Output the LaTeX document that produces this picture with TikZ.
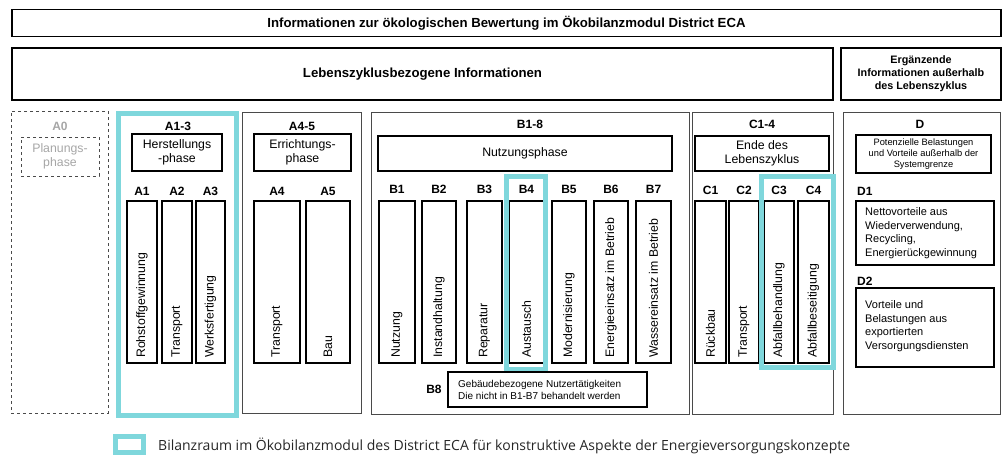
\documentclass[tikz,border=0pt]{standalone}
\usepackage{fontspec}
\setmainfont{Liberation Sans}
\newfontfamily\legendfont{Open Sans}
\definecolor{cy}{HTML}{7FD7DC}
\definecolor{secgray}{HTML}{4A4A4A}
\definecolor{ltgray}{HTML}{A6A6A6}
\newcommand\bx[7]{%
  \node[#6, minimum width={(#4-#2)*1pt}, minimum height={(#5-#3)*1pt}] (#1) at ({(#2+#4)/2},{(#3+#5)/2}) {#7};}
\tikzset{
  box/.style={draw, inner sep=0pt, outer sep=0pt, align=center, font=\fontsize{12.3}{14.5}\selectfont},
  frame/.style={box, line width=1.5pt},
  section/.style={box, draw=secgray, line width=1pt},
  phase/.style={box, line width=1.5pt},
  col/.style={box, line width=1.6pt},
  hl/.style={draw=cy, line width=5pt, inner sep=0pt, outer sep=0pt},
  lbl/.style={font=\bfseries\fontsize{12}{14}\selectfont, inner sep=0pt},
  vtext/.style={rotate=90, anchor=west, font=\fontsize{12.3}{14}\selectfont, inner sep=0pt},
}
\begin{document}
\begin{tikzpicture}[x=1pt,y=-1pt]
\useasboundingbox (0,0) rectangle (1002,456);
% top rows
\bx{top}{12}{9.5}{1001}{36.5}{frame, font=\bfseries\fontsize{13.2}{15}\selectfont}{Informationen zur ökologischen Bewertung im Ökobilanzmodul District ECA}
\bx{lzi}{12}{48}{833}{100}{frame, font=\bfseries\fontsize{13.2}{15}\selectfont}{Lebenszyklusbezogene Informationen}
\bx{erg}{841}{48}{1001}{100}{frame, font=\bfseries\fontsize{10.8}{12.8}\selectfont}{Ergänzende\\Informationen außerhalb\\des Lebenszyklus}
% A0
\bx{A0}{11}{111}{108}{413}{section, dashed}{}
\node[lbl, text=ltgray] (lA0) at (60,126) {A0};
\bx{plan}{21}{137}{99}{176}{box, dashed, draw=secgray, text=ltgray, line width=0.8pt}{Planungs-\\phase}
% A1-3
\bx{A13}{118.5}{113.5}{236.5}{415.5}{hl}{}
\node[lbl] (lA13) at (178,126) {A1-3};
\bx{herst}{132}{134}{222}{171}{phase}{Herstellungs\\-phase}
\foreach \n/\a/\b/\t in {A1/127/157/Rohstoffgewinnung, A2/162/192/Transport, A3/196/225/Werksfertigung}{
  \bx{\n}{\a}{201}{\b}{363}{col}{}
  \node[lbl] (l\n) at ({(\a+\b)/2},191) {\n};
  \node[vtext] (t\n) at ([yshift=5pt]\n.south) {\t};
}
% A4-5
\bx{A45}{242}{112}{361}{413}{section}{}
\node[lbl] (lA45) at (302,126) {A4-5};
\bx{erri}{254}{134}{351}{171}{phase}{Errichtungs-\\phase}
\foreach \n/\a/\b/\t in {A4/254/300/Transport, A5/306/350/Bau}{
  \bx{\n}{\a}{201}{\b}{363}{col}{}
  \node[lbl] (l\n) at ({(\a+\b)/2},191) {\n};
  \node[vtext] (t\n) at ([yshift=5pt]\n.south) {\t};
}
% B1-8
\bx{B18}{371}{112}{689}{414}{section}{}
\node[lbl] (lB18) at (530,124) {B1-8};
\bx{nutz}{378}{136}{672}{171}{phase}{Nutzungsphase}
\foreach \n/\a/\b/\t in {B1/379/415/Nutzung, B2/422/456/Instandhaltung, B3/467/502/Reparatur, B4/509/544/Austausch, B5/552/586/Modernisierung, B6/594/628/Energieeinsatz im Betrieb, B7/636/671/Wassereinsatz im Betrieb}{
  \bx{\n}{\a}{201}{\b}{363}{col}{}
  \node[lbl] (l\n) at ({(\a+\b)/2},189) {\n};
  \node[vtext] (t\n) at ([yshift=5pt]\n.south) {\t};
}
\bx{B4hl}{506.5}{176.5}{545.5}{369.5}{hl}{}
\bx{B8}{448}{372}{647}{407}{phase}{}
\node[anchor=west, align=left, inner sep=0pt, font=\fontsize{10}{12}\selectfont] (tB8) at (458,389.5) {Gebäudebezogene Nutzertätigkeiten\\Die nicht in B1-B7 behandelt werden};
\node[lbl] (lB8) at (434,389) {B8};
% C1-4
\bx{C14}{692}{112}{833}{414}{section}{}
\node[lbl] (lC14) at (762,124) {C1-4};
\bx{ende}{695}{136}{829}{171}{phase}{Ende des\\Lebenszyklus}
\foreach \n/\a/\b/\t in {C1/695/726/Rückbau, C2/729/759/Transport, C3/764/794/Abfallbehandlung, C4/798/829/Abfallbeseitigung}{
  \bx{\n}{\a}{201}{\b}{363}{col}{}
  \node[lbl] (l\n) at ({(\a+\b)/2},190) {\n};
  \node[vtext] (t\n) at ([yshift=5pt]\n.south) {\t};
}
\bx{C34hl}{761.5}{176.5}{833.5}{367.5}{hl}{}
% D
\bx{D}{843}{112}{1000}{414}{section}{}
\node[lbl] (lD) at (920,124) {D};
\bx{pot}{856}{135}{991}{173}{phase, font=\fontsize{9.3}{11}\selectfont}{Potenzielle Belastungen\\und Vorteile außerhalb der\\Systemgrenze}
\node[lbl, anchor=west] (lD1) at (857,191) {D1};
\bx{D1}{856}{201}{994}{265}{phase}{}
\node[anchor=west, align=left, inner sep=0pt, font=\fontsize{11}{13.5}\selectfont] (tD1) at (865,233) {Nettovorteile aus\\Wiederverwendung,\\Recycling,\\Energierückgewinnung};
\node[lbl, anchor=west] (lD2) at (857,281) {D2};
\bx{D2}{856}{288}{994}{367}{phase}{}
\node[anchor=west, align=left, inner sep=0pt, font=\fontsize{11}{13.5}\selectfont] (tD2) at (865,326) {Vorteile und\\Belastungen aus\\exportierten\\Versorgungsdiensten};
% legend
\bx{leg}{115.5}{436.5}{143.5}{452.5}{hl}{}
\node[anchor=west, inner sep=0pt, font=\legendfont\fontsize{14}{16}\selectfont, text=black!85] (tleg) at (158,446) {Bilanzraum im Ökobilanzmodul des District ECA für konstruktive Aspekte der Energieversorgungskonzepte};
\end{tikzpicture}
\end{document}
